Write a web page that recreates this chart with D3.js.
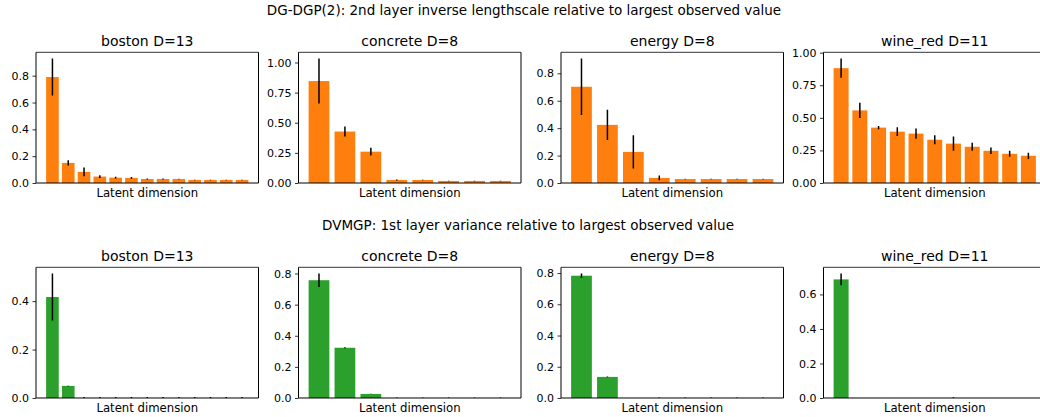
<!DOCTYPE html>
<html>
<head>
<meta charset="utf-8">
<script src="https://cdnjs.cloudflare.com/ajax/libs/d3/7.8.5/d3.min.js"></script>
<style>
  body { margin: 0; background: #fff; }
  svg { font-family: "DejaVu Sans", sans-serif; }
</style>
</head>
<body>
<div id="chart-area"></div>
<script>
// panel titles
var datasets = ["boston D=13", "concrete D=8", "energy D=8", "wine_red D=11"];

var rowTitles = [
    "DG-DGP(2): 2nd layer inverse lengthscale relative to largest observed value",
    "DVMGP: 1st layer variance relative to largest observed value"
];

// DG-DGP(2) top row
var dgdgpMean = [
    [0.79, 0.15, 0.083, 0.048, 0.04, 0.038, 0.03, 0.03, 0.03, 0.023, 0.023, 0.023, 0.023],
    [0.846, 0.427, 0.26, 0.025, 0.025, 0.017, 0.017, 0.017],
    [0.702, 0.424, 0.227, 0.037, 0.029, 0.029, 0.029, 0.029],
    [0.881, 0.557, 0.425, 0.394, 0.379, 0.332, 0.302, 0.278, 0.247, 0.224, 0.209]
];
var dgdgpErr = [
    [0.138, 0.02, 0.033, 0.01, 0.007, 0.007, 0.003, 0.003, 0.002, 0.002, 0.002, 0.002, 0.002],
    [0.187, 0.042, 0.032, 0.005, 0.002, 0.002, 0.002, 0.002],
    [0.206, 0.11, 0.122, 0.017, 0.002, 0.002, 0.002, 0.002],
    [0.074, 0.058, 0.013, 0.034, 0.039, 0.034, 0.055, 0.031, 0.025, 0.023, 0.024]
];

// DVMGP bottom row
var dvmgpMean = [
    [0.417, 0.05, 0, 0, 0, 0, 0, 0, 0, 0, 0, 0, 0],
    [0.757, 0.323, 0.026, 0, 0, 0, 0, 0],
    [0.783, 0.135, 0, 0, 0, 0, 0, 0],
    [0.687, 0, 0, 0, 0, 0, 0, 0, 0, 0, 0]
];
var dvmgpErr = [
    [0.097, 0.001, 0.004, 0.004, 0.004, 0.004, 0.004, 0.004, 0.004, 0.004, 0.004, 0.004, 0.004],
    [0.043, 0.003, 0.001, 0.004, 0.004, 0.004, 0.004, 0.004],
    [0.014, 0.002, 0, 0.004, 0.004, 0.004, 0.004, 0.004],
    [0.034, 0, 0, 0, 0, 0, 0.004, 0, 0, 0, 0]
];

// y tick values
var dgdgpTicks = [
    [0, 0.2, 0.4, 0.6, 0.8],
    [0, 0.25, 0.5, 0.75, 1.0],
    [0, 0.2, 0.4, 0.6, 0.8],
    [0, 0.25, 0.5, 0.75, 1.0]
];
var dvmgpTicks = [
    [0, 0.2, 0.4],
    [0, 0.2, 0.4, 0.6, 0.8],
    [0, 0.2, 0.4, 0.6, 0.8],
    [0, 0.2, 0.4, 0.6]
];
var tickFormats = [".1f", ".2f", ".1f", ".2f"];
var dvmgpFormats = [".1f", ".1f", ".1f", ".1f"];

var W = 1040, H = 417;
var panelW = 222.5;
var panelLeft = [36, 298.5, 561, 823.5];
var rowTop = [52.3, 267.3];
var panelH = 130.7;

var svg = d3.select("#chart-area")
    .append("svg")
        .attr("width", W)
        .attr("height", H);

var rows = [
    {mean: dgdgpMean, err: dgdgpErr, ticks: dgdgpTicks, fmt: tickFormats, color: "#ff7f0e", title: rowTitles[0], tx: 524, ty: 15},
    {mean: dvmgpMean, err: dvmgpErr, ticks: dvmgpTicks, fmt: dvmgpFormats, color: "#2ca02c", title: rowTitles[1], tx: 528, ty: 230}
];

rows.forEach(function(row, r) {
    svg.append("text")
        .attr("x", row.tx)
        .attr("y", row.ty)
        .attr("font-size", "13.5px")
        .attr("text-anchor", "middle")
        .attr("fill", "#000")
        .text(row.title);

    datasets.forEach(function(name, i) {
        var means = row.mean[i];
        var errs = row.err[i];
        var n = means.length;
        var idx = d3.range(n);

        var g = svg.append("g")
            .attr("transform", "translate(" + panelLeft[i] + ", " + rowTop[r] + ")");

        // same padding as matplotlib bars: width 0.8 and 5% margins
        var lo = -0.4, hi = n - 1 + 0.4, pad = (hi - lo) * 0.05;
        var x = d3.scaleLinear()
            .domain([lo - pad, hi + pad])
            .range([0, panelW]);

        var ymax = d3.max(idx, function(k) { return means[k] + errs[k]; }) * 1.05;
        var y = d3.scaleLinear()
            .domain([0, ymax])
            .range([panelH, 0]);

        var clipId = "clip" + r + "_" + i;
        g.append("clipPath")
            .attr("id", clipId)
            .append("rect")
                .attr("width", panelW)
                .attr("height", panelH);

        var plot = g.append("g").attr("clip-path", "url(#" + clipId + ")");

        plot.selectAll("rect.bar")
            .data(idx)
            .enter()
            .append("rect")
                .attr("class", "bar")
                .attr("x", function(k) { return x(k - 0.4); })
                .attr("width", function(k) { return x(k + 0.4) - x(k - 0.4); })
                .attr("y", function(k) { return y(means[k]); })
                .attr("height", function(k) { return panelH - y(means[k]); })
                .attr("fill", row.color);

        plot.selectAll("line.err")
            .data(idx.filter(function(k) { return errs[k] > 0; }))
            .enter()
            .append("line")
                .attr("class", "err")
                .attr("x1", function(k) { return x(k); })
                .attr("x2", function(k) { return x(k); })
                .attr("y1", function(k) { return y(means[k] - errs[k]); })
                .attr("y2", function(k) { return y(means[k] + errs[k]); })
                .attr("stroke", "#000")
                .attr("stroke-width", 1.5);

        var yAxisCall = d3.axisLeft(y)
            .tickValues(row.ticks[i])
            .tickFormat(d3.format(row.fmt[i]))
            .tickSize(3.5)
            .tickPadding(3.5);
        var yAxis = g.append("g")
            .attr("class", "y-axis")
            .call(yAxisCall);
        yAxis.select(".domain").remove();
        yAxis.selectAll("text")
            .attr("font-size", "11px")
            .attr("font-family", "DejaVu Sans")
            .attr("fill", "#000");
        yAxis.selectAll("line").attr("stroke", "#000").attr("stroke-width", 0.8);

        // frame
        g.append("line")
            .attr("x1", 0).attr("x2", panelW).attr("y1", 0).attr("y2", 0)
            .attr("stroke", "#000").attr("stroke-width", 0.8);
        g.append("line")
            .attr("x1", 0).attr("x2", panelW).attr("y1", panelH).attr("y2", panelH)
            .attr("stroke", "#000").attr("stroke-width", 1);
        g.append("line")
            .attr("x1", 0).attr("x2", 0).attr("y1", 0).attr("y2", panelH)
            .attr("stroke", "#000").attr("stroke-width", 1);
        g.append("line")
            .attr("x1", panelW).attr("x2", panelW).attr("y1", 0).attr("y2", panelH)
            .attr("stroke", "#000").attr("stroke-width", 1);

        g.append("text")
            .attr("x", panelW / 2)
            .attr("y", -6)
            .attr("font-size", "14px")
            .attr("text-anchor", "middle")
            .text(name);

        g.append("text")
            .attr("x", panelW / 2)
            .attr("y", panelH + 14)
            .attr("font-size", "11.7px")
            .attr("text-anchor", "middle")
            .text("Latent dimension");
    });
});
</script>
</body>
</html>
